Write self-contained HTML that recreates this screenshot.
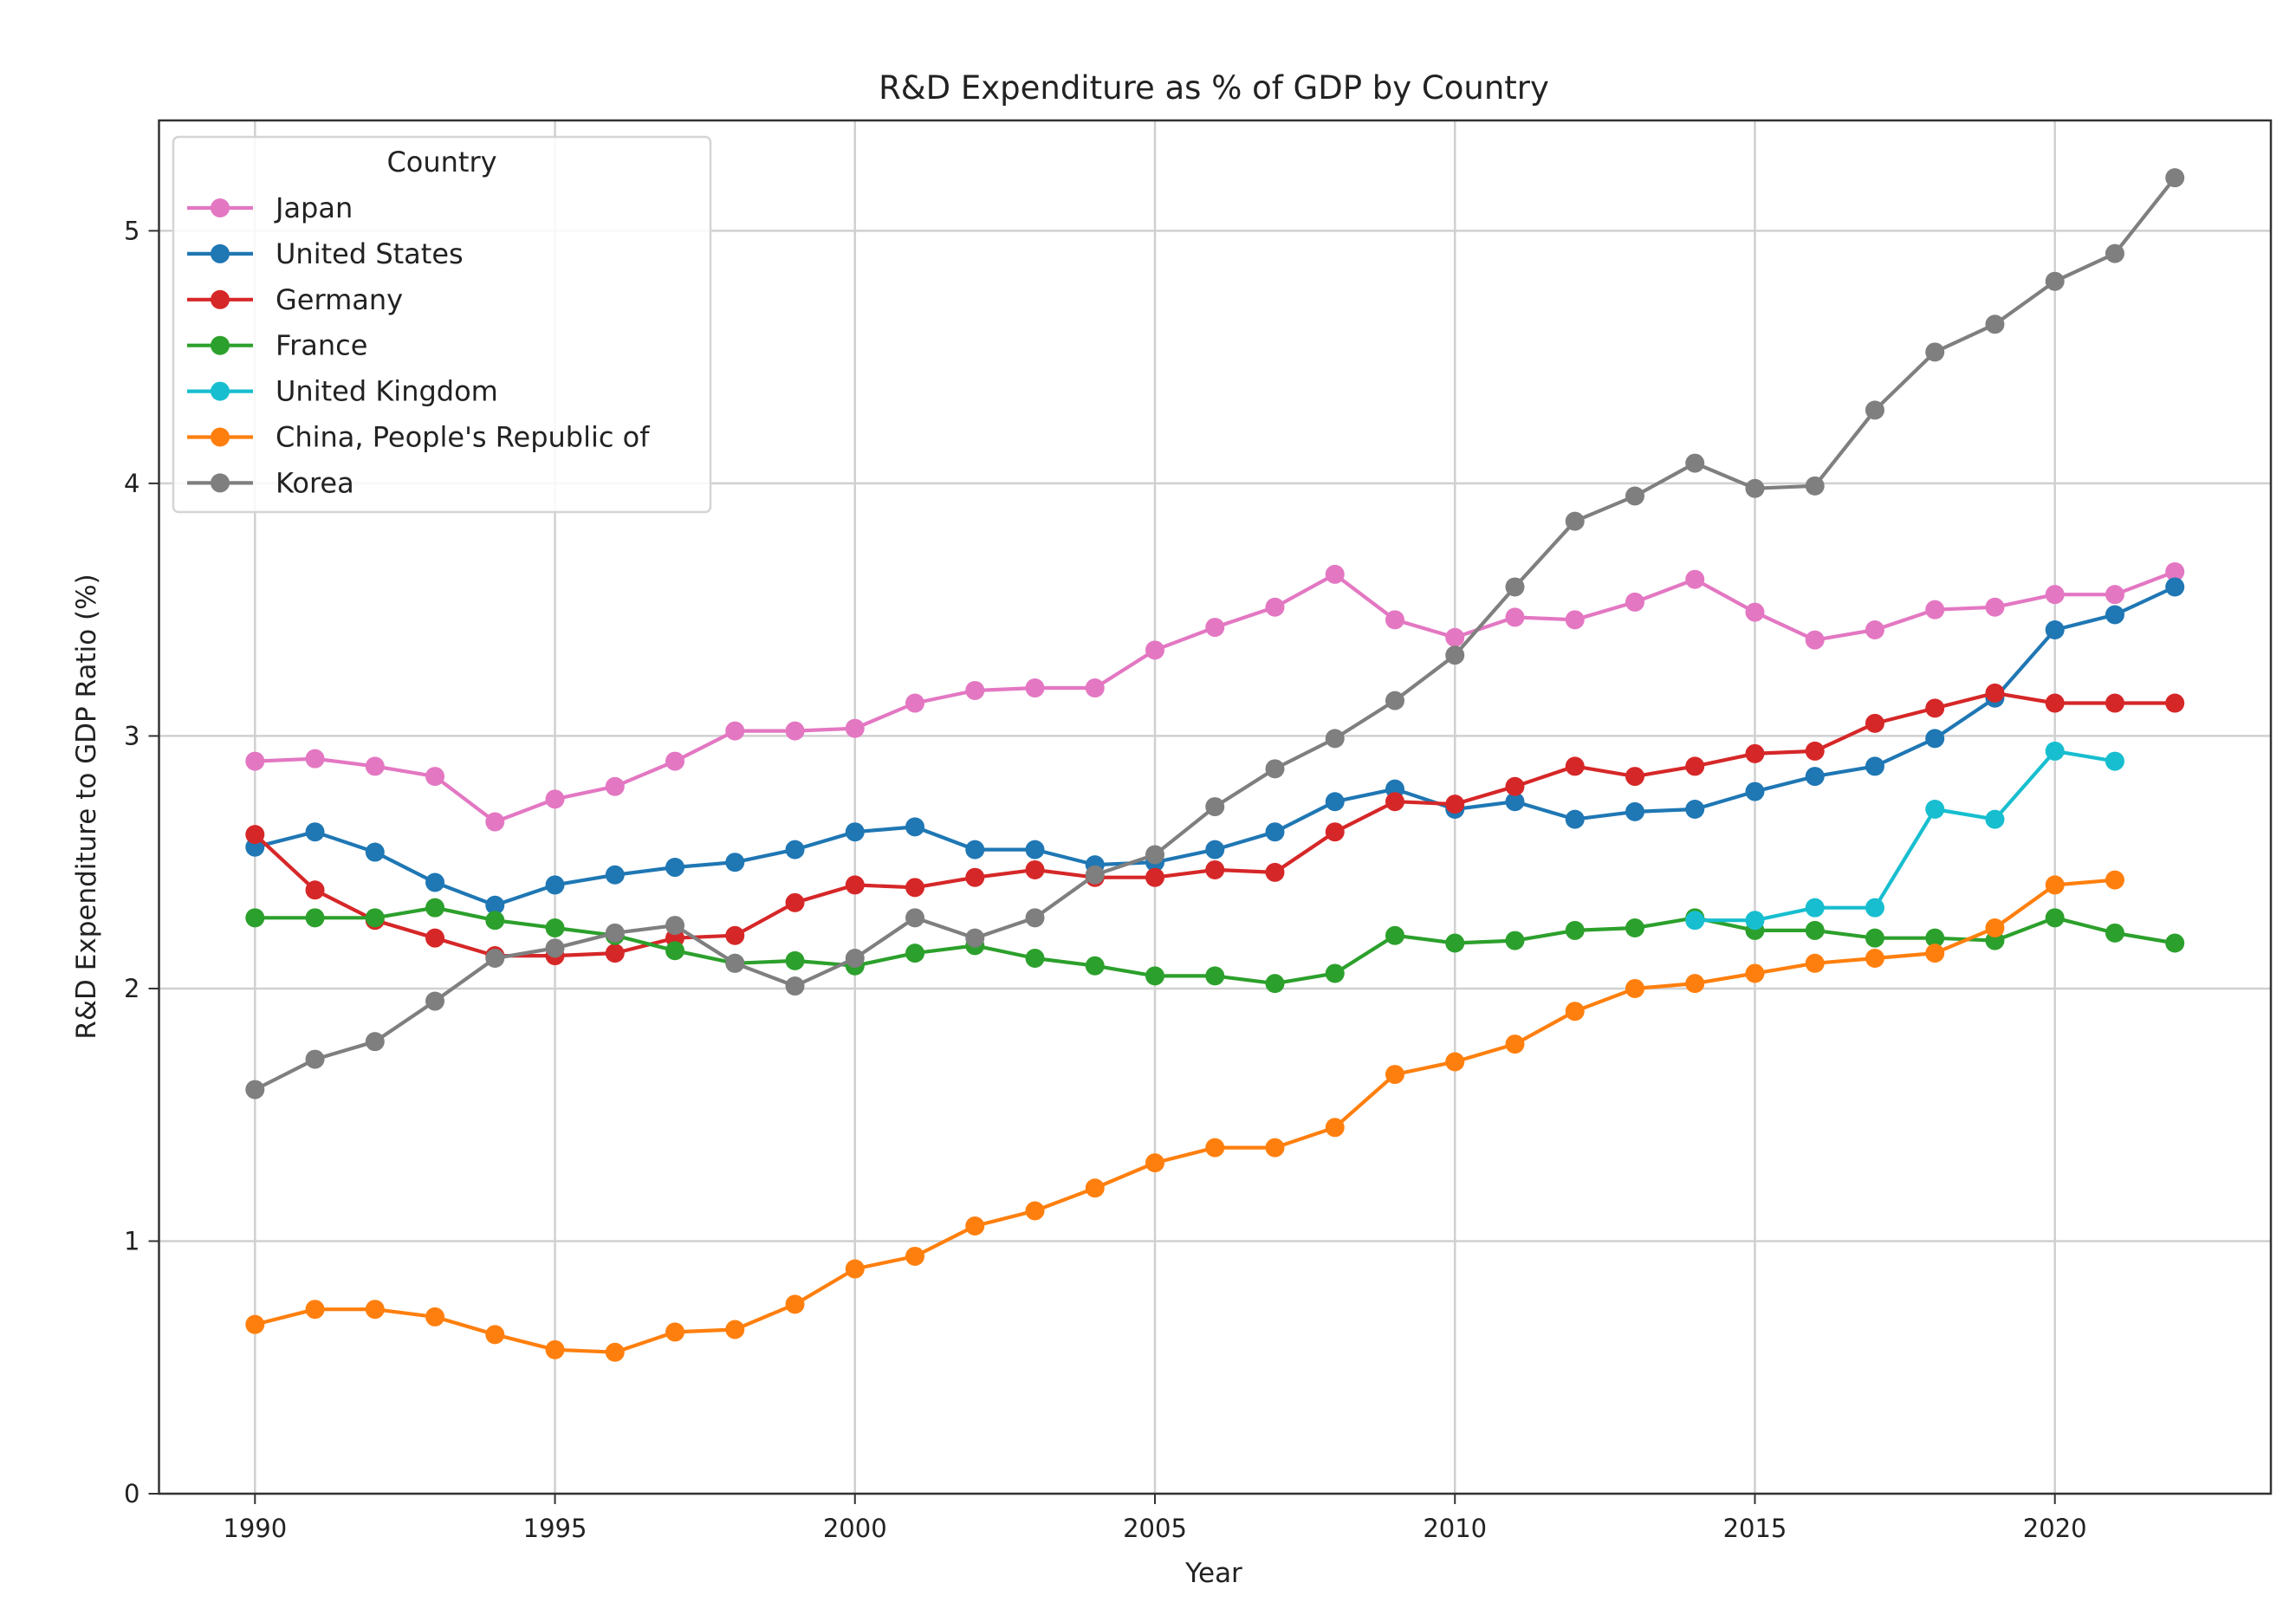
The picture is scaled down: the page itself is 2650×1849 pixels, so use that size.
<!DOCTYPE html>
<html><head><meta charset="utf-8"><style>
body{margin:0;background:#fff}
svg text{font-family:"DejaVu Sans","Liberation Sans",sans-serif;fill:#222}
</style></head><body>
<svg id="chart" width="2650" height="1844" viewBox="0 0 2650 1844" xmlns="http://www.w3.org/2000/svg"></svg>
<script>
const years = [1990,1991,1992,1993,1994,1995,1996,1997,1998,1999,2000,2001,2002,2003,2004,2005,2006,2007,2008,2009,2010,2011,2012,2013,2014,2015,2016,2017,2018,2019,2020,2021,2022];
const japan = [2.90,2.91,2.88,2.84,2.66,2.75,2.80,2.90,3.02,3.02,3.03,3.13,3.18,3.19,3.19,3.34,3.43,3.51,3.64,3.46,3.39,3.47,3.46,3.53,3.62,3.49,3.38,3.42,3.50,3.51,3.56,3.56,3.65];
const unitedStates = [2.56,2.62,2.54,2.42,2.33,2.41,2.45,2.48,2.50,2.55,2.62,2.64,2.55,2.55,2.49,2.50,2.55,2.62,2.74,2.79,2.71,2.74,2.67,2.70,2.71,2.78,2.84,2.88,2.99,3.15,3.42,3.48,3.59];
const germany = [2.61,2.39,2.27,2.20,2.13,2.13,2.14,2.20,2.21,2.34,2.41,2.40,2.44,2.47,2.44,2.44,2.47,2.46,2.62,2.74,2.73,2.80,2.88,2.84,2.88,2.93,2.94,3.05,3.11,3.17,3.13,3.13,3.13];
const france = [2.28,2.28,2.28,2.32,2.27,2.24,2.21,2.15,2.10,2.11,2.09,2.14,2.17,2.12,2.09,2.05,2.05,2.02,2.06,2.21,2.18,2.19,2.23,2.24,2.28,2.23,2.23,2.20,2.20,2.19,2.28,2.22,2.18];
const unitedKingdom = [null,null,null,null,null,null,null,null,null,null,null,null,null,null,null,null,null,null,null,null,null,null,null,null,2.27,2.27,2.32,2.32,2.71,2.67,2.94,2.90,null];
const china = [0.67,0.73,0.73,0.70,0.63,0.57,0.56,0.64,0.65,0.75,0.89,0.94,1.06,1.12,1.21,1.31,1.37,1.37,1.45,1.66,1.71,1.78,1.91,2.00,2.02,2.06,2.10,2.12,2.14,2.24,2.41,2.43,null];
const korea = [1.60,1.72,1.79,1.95,2.12,2.16,2.22,2.25,2.10,2.01,2.12,2.28,2.20,2.28,2.45,2.53,2.72,2.87,2.99,3.14,3.32,3.59,3.85,3.95,4.08,3.98,3.99,4.29,4.52,4.63,4.80,4.91,5.21];
const seriesNames = ["Japan","United States","Germany","France","United Kingdom","China, People's Republic of","Korea"];
const xTicks = [1990,1995,2000,2005,2010,2015,2020];
const yTicks = [0,1,2,3,4,5];

const seriesData = [japan,unitedStates,germany,france,unitedKingdom,china,korea];
const colors = ["#e377c2","#1f77b4","#d62728","#2ca02c","#17becf","#ff7f0e","#7f7f7f"];
const L=183.5,R=2621,T=139,B=1724;
const xMin=1988.4,xMax=2023.6,yMin=0,yMax=5.437;
const xs=v=>L+(v-xMin)/(xMax-xMin)*(R-L);
const ys=v=>B-(v-yMin)/(yMax-yMin)*(B-T);
const svg=document.getElementById('chart');
const NS='http://www.w3.org/2000/svg';
function mk(tag,attrs,parent){const e=document.createElementNS(NS,tag);for(const k in attrs)e.setAttribute(k,attrs[k]);(parent||svg).appendChild(e);return e;}

const grid=mk('g',{});


xTicks.forEach(t=>{mk('line',{x1:xs(t),x2:xs(t),y1:T,y2:B,stroke:'#d0d0d0','stroke-width':2.5},grid);});
yTicks.forEach(t=>{mk('line',{x1:L,x2:R,y1:ys(t),y2:ys(t),stroke:'#d0d0d0','stroke-width':2.5},grid);});

const xAxis=mk('g',{});


xTicks.forEach(t=>{
  mk('line',{x1:xs(t),x2:xs(t),y1:B,y2:B+12,stroke:'#333','stroke-width':2},xAxis);
  const tx=mk('text',{x:xs(t),y:B+50,'text-anchor':'middle','font-size':29},xAxis);
  tx.textContent=t;
  
  
});
const yAxis=mk('g',{});


yTicks.forEach(t=>{
  mk('line',{x1:L-12,x2:L,y1:ys(t),y2:ys(t),stroke:'#333','stroke-width':2},yAxis);
  const tx=mk('text',{x:L-22,y:ys(t)+10,'text-anchor':'end','font-size':29},yAxis);
  tx.textContent=t;
  
  
});

seriesData.forEach((arr,si)=>{
  const g=mk('g',{});
  
  
  let d='',pen=false;
  arr.forEach((v,i)=>{
    if(v===null){pen=false;return;}
    d+=(pen?'L':'M')+xs(years[i]).toFixed(1)+','+ys(v).toFixed(1);pen=true;
  });
  mk('path',{d:d,fill:'none',stroke:colors[si],'stroke-width':4.2,'stroke-linejoin':'round'},g);
  arr.forEach((v,i)=>{
    if(v===null)return;
    const c=mk('circle',{cx:xs(years[i]),cy:ys(v),r:11,fill:colors[si]},g);
    
    
  });
});

mk('rect',{x:L,y:T,width:R-L,height:B-T,fill:'none',stroke:'#333','stroke-width':2.5});

const title=mk('text',{x:1401,y:114,'text-anchor':'middle','font-size':37});
title.textContent='R&D Expenditure as % of GDP by Country';


const xl=mk('text',{x:1401,y:1826,'text-anchor':'middle','font-size':31});
xl.textContent='Year';


const yl=mk('text',{x:0,y:0,'text-anchor':'middle','font-size':31,transform:'translate(110,931) rotate(-90)'});
yl.textContent='R&D Expenditure to GDP Ratio (%)';



const leg=mk('g',{});


mk('rect',{x:200,y:158,width:620,height:433,rx:6,fill:'#fff','fill-opacity':0.85,stroke:'#d5d5d5','stroke-width':2.5},leg);
const lt=mk('text',{x:510,y:198,'text-anchor':'middle','font-size':32},leg);
lt.textContent='Country';


seriesNames.forEach((n,i)=>{
  const y=240+i*52.9;
  const e=mk('g',{},leg);
  
  
  mk('line',{x1:216,x2:292,y1:y,y2:y,stroke:colors[i],'stroke-width':4.2},e);
  mk('circle',{cx:254,cy:y,r:11,fill:colors[i]},e);
  const t=mk('text',{x:318,y:y+11,'font-size':32},e);
  t.textContent=n;
});
</script>
</body></html>
